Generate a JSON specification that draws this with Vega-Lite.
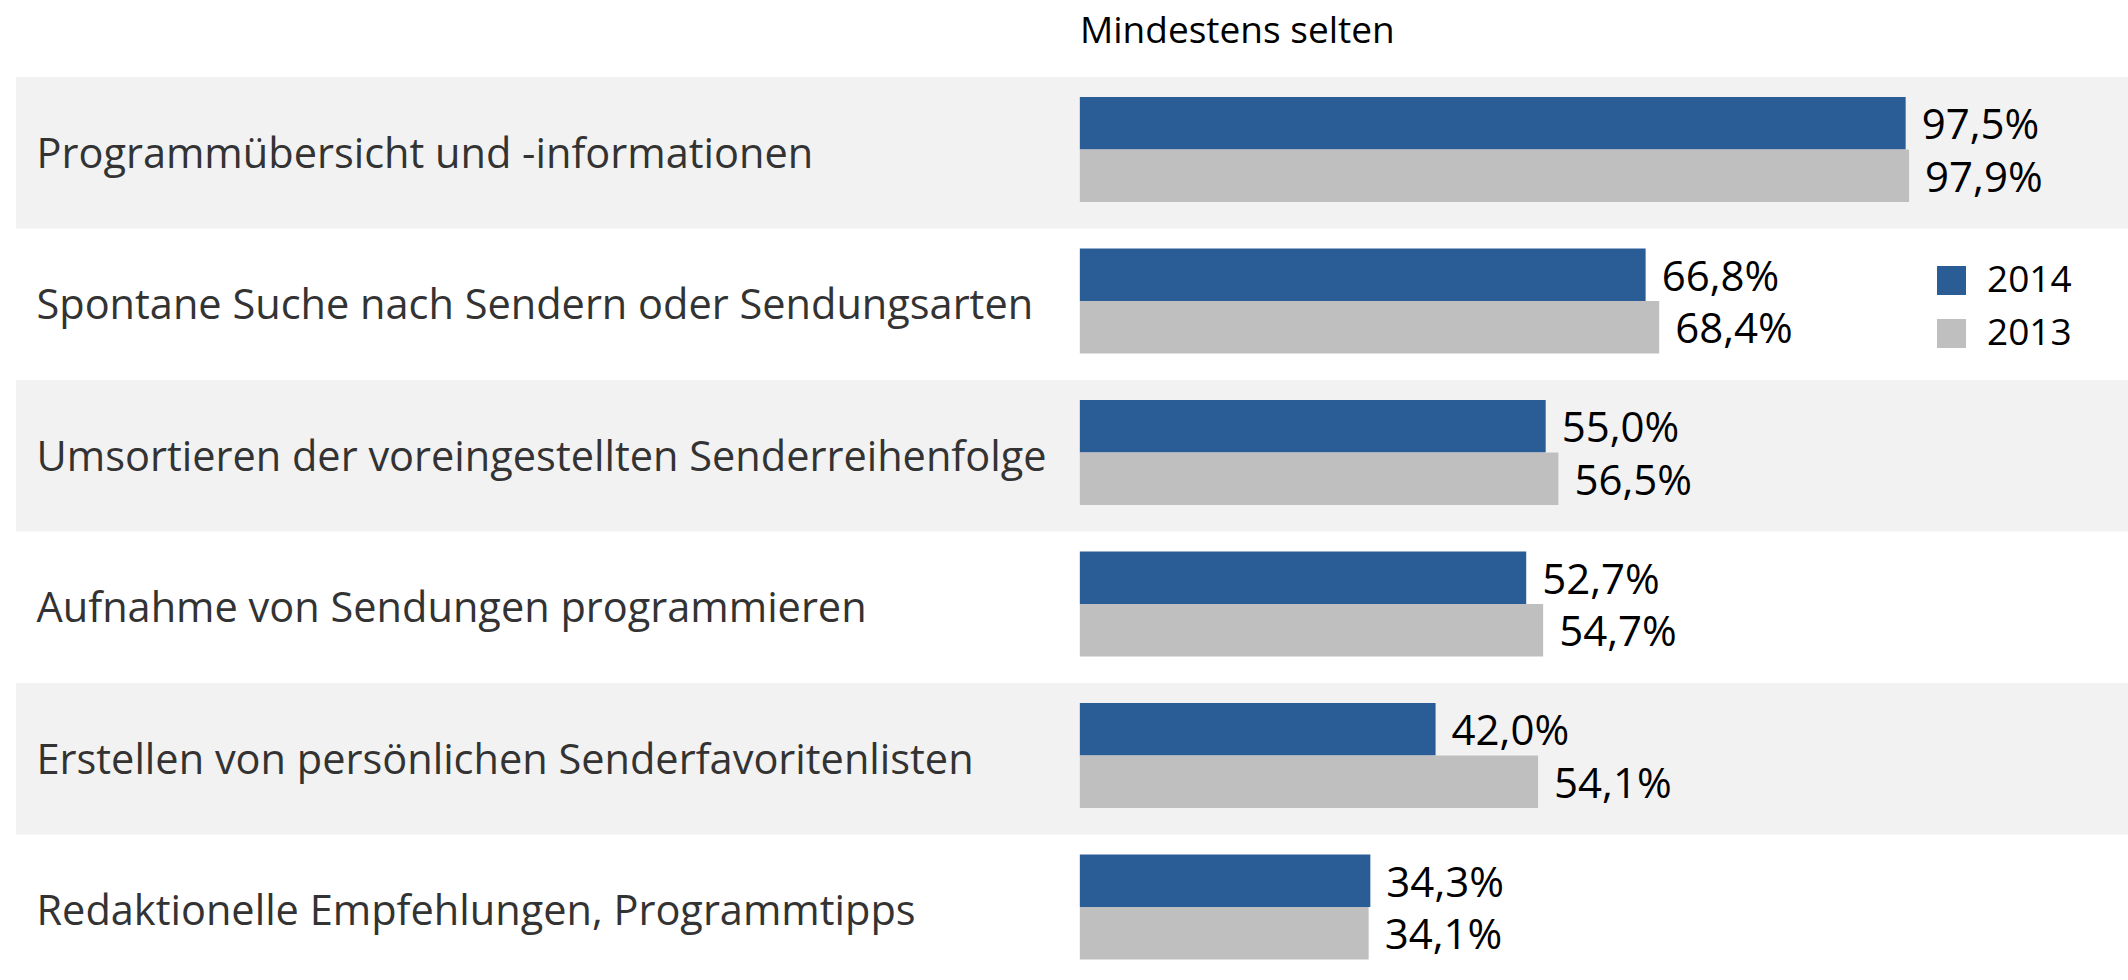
{
  "$schema": "https://vega.github.io/schema/vega-lite/v6.json",
  "width": 2112,
  "height": 903,
  "autosize": "none",
  "padding": {"left": 16, "top": 77, "right": 0, "bottom": 0},
  "background": "white",
  "config": {
    "view": {"stroke": null},
    "font": "Open Sans",
    "locale": {"number": {"decimal": ",", "thousands": ".", "grouping": [3], "currency": ["", "%"]}}
  },
  "title": {
    "text": "Mindestens selten",
    "anchor": "start",
    "dx": 1064,
    "fontSize": 37,
    "fontWeight": "normal",
    "color": "#000000",
    "font": "Open Sans",
    "baseline": "alphabetic",
    "offset": -3
  },
  "data": {
    "values": [
      {"cat": "Programmübersicht und -informationen", "year": "2014", "v": 97.5},
      {"cat": "Programmübersicht und -informationen", "year": "2013", "v": 97.9},
      {"cat": "Spontane Suche nach Sendern oder Sendungsarten", "year": "2014", "v": 66.8},
      {"cat": "Spontane Suche nach Sendern oder Sendungsarten", "year": "2013", "v": 68.4},
      {"cat": "Umsortieren der voreingestellten Senderreihenfolge", "year": "2014", "v": 55.0},
      {"cat": "Umsortieren der voreingestellten Senderreihenfolge", "year": "2013", "v": 56.5},
      {"cat": "Aufnahme von Sendungen programmieren", "year": "2014", "v": 52.7},
      {"cat": "Aufnahme von Sendungen programmieren", "year": "2013", "v": 54.7},
      {"cat": "Erstellen von persönlichen Senderfavoritenlisten", "year": "2014", "v": 42.0},
      {"cat": "Erstellen von persönlichen Senderfavoritenlisten", "year": "2013", "v": 54.1},
      {"cat": "Redaktionelle Empfehlungen, Programmtipps", "year": "2014", "v": 34.3},
      {"cat": "Redaktionelle Empfehlungen, Programmtipps", "year": "2013", "v": 34.1}
    ]
  },
  "encoding": {
    "y": {
      "field": "cat",
      "type": "nominal",
      "sort": [
        "Programmübersicht und -informationen",
        "Spontane Suche nach Sendern oder Sendungsarten",
        "Umsortieren der voreingestellten Senderreihenfolge",
        "Aufnahme von Sendungen programmieren",
        "Erstellen von persönlichen Senderfavoritenlisten",
        "Redaktionelle Empfehlungen, Programmtipps"
      ],
      "scale": {"range": [0, 909], "paddingInner": 0, "paddingOuter": 0},
      "axis": {
        "title": null,
        "orient": "left",
        "offset": -20,
        "ticks": false,
        "tickSize": 0,
        "domain": false,
        "labelAlign": "left",
        "labelBaseline": "middle",
        "labelPadding": 0,
        "labelOffset": 3,
        "labelFontSize": 41.5,
        "labelFont": "Open Sans",
        "labelColor": "#333333",
        "labelLimit": 0,
        "zindex": 1
      }
    }
  },
  "layer": [
    {
      "transform": [
        {"filter": {"field": "year", "equal": "2014"}},
        {"filter": {"field": "cat", "oneOf": ["Programmübersicht und -informationen", "Umsortieren der voreingestellten Senderreihenfolge", "Erstellen von persönlichen Senderfavoritenlisten"]}}
      ],
      "mark": {"type": "rect", "color": "#f2f2f2"},
      "encoding": {"x": {"value": 0}, "x2": {"value": "width"}}
    },
    {
      "mark": {"type": "bar"},
      "encoding": {
        "x": {"field": "v", "type": "quantitative", "scale": {"domain": [-125.6, 123.75], "zero": false, "nice": false}, "axis": null},
        "x2": {"datum": 0},
        "yOffset": {"field": "year", "type": "nominal", "sort": ["2014", "2013"], "scale": {"paddingInner": 0, "paddingOuter": 0.443, "align": 0.43}},
        "color": {
          "field": "year",
          "type": "nominal",
          "sort": ["2014", "2013"],
          "scale": {"domain": ["2014", "2013"], "range": ["#2A5D96", "#BFBFBF"]},
          "legend": {
            "title": null,
            "orient": "none",
            "legendX": 1917,
            "legendY": 185,
            "symbolType": "square",
            "symbolSize": 840,
            "symbolStrokeWidth": 0,
            "symbolOpacity": 1,
            "labelFontSize": 37,
            "labelFont": "Open Sans",
            "labelColor": "#000000",
            "labelOffset": 17,
            "rowPadding": 15,
            "padding": 0
          }
        }
      }
    },
    {
      "mark": {"type": "text", "align": "left", "baseline": "middle", "dx": 16, "dy": 3, "fontSize": 42, "font": "Open Sans", "color": "#000000"},
      "encoding": {
        "x": {"field": "v", "type": "quantitative"},
        "yOffset": {"field": "year", "type": "nominal", "sort": ["2014", "2013"]},
        "text": {"field": "v", "type": "quantitative", "format": "$.1f"}
      }
    }
  ]
}
